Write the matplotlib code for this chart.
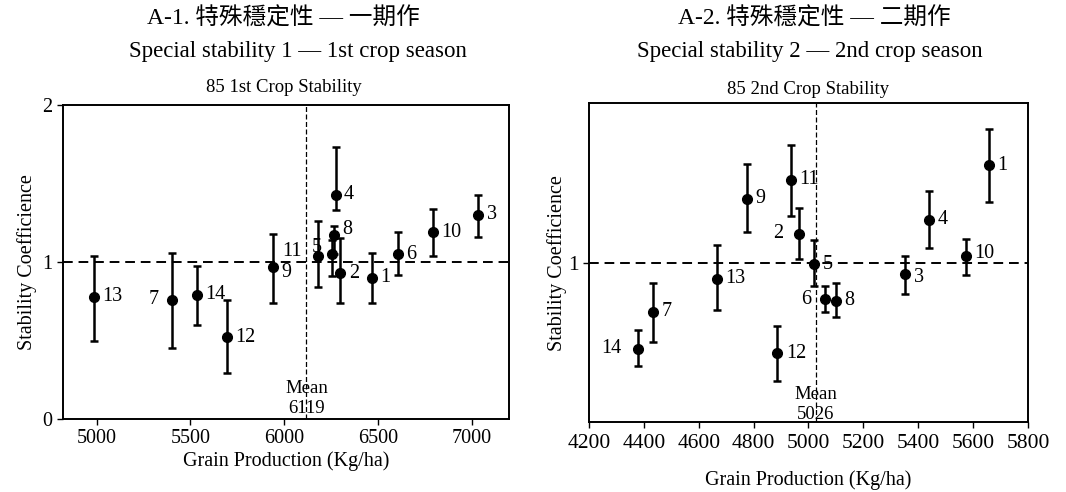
import matplotlib
matplotlib.use('Agg')
import matplotlib.pyplot as plt

plt.rcParams['font.family'] = ['Liberation Serif', 'Noto Sans CJK TC']

# =============================================================================
# Data
# =============================================================================
# 1st crop season
labels_1 = ['13', '7', '14', '12', '9', '11', '5', '8', '4', '2', '1', '6', '10', '3']
yield_1 = [4985, 5404, 5533, 5693, 5939, 6182, 6255, 6265, 6275, 6300, 6467, 6605, 6792, 7036]
coef_1 = [0.78, 0.76, 0.79, 0.52, 0.97, 1.04, 1.05, 1.17, 1.43, 0.93, 0.90, 1.05, 1.19, 1.30]
upper_1 = [1.04, 1.06, 0.975, 0.76, 1.18, 1.26, 1.14, 1.23, 1.73, 1.15, 1.06, 1.19, 1.34, 1.43]
lower_1 = [0.50, 0.45, 0.60, 0.29, 0.74, 0.84, 0.91, 1.05, 1.33, 0.74, 0.74, 0.92, 1.04, 1.16]
mean_1 = 6119

# 2nd crop season
labels_2 = ['14', '7', '13', '9', '12', '11', '2', '5', '6', '8', '3', '4', '10', '1']
yield_2 = [4380, 4435, 4666, 4775, 4887, 4936, 4965, 5021, 5061, 5101, 5353, 5440, 5575, 5659]
coef_2 = [0.46, 0.69, 0.90, 1.40, 0.43, 1.52, 1.18, 0.99, 0.77, 0.76, 0.93, 1.27, 1.04, 1.61]
upper_2 = [0.58, 0.87, 1.11, 1.62, 0.60, 1.74, 1.34, 1.14, 0.85, 0.87, 1.04, 1.45, 1.15, 1.84]
lower_2 = [0.35, 0.50, 0.70, 1.19, 0.26, 1.29, 1.02, 0.85, 0.69, 0.66, 0.80, 1.09, 0.92, 1.38]
mean_2 = 5026

# label offsets (points) for each genotype number
offs_1 = {'7': (-10, 0), '11': (-12, 3), '5': (-7, 5), '8': (6, 4), '9': (6, -4)}
offs_2 = {'14': (-12, 0), '2': (-11, 0), '6': (-10, 0), '10': (6, 2), '3': (6, -3)}


def draw_panel(ax, x, y, lo, hi, labels, offs, mean, mean_txt_y, tick_fs):
    yerr = [[v - l for v, l in zip(y, lo)], [h - v for v, h in zip(y, hi)]]
    ax.errorbar(x, y, yerr=yerr, fmt='o', color='black', ms=7, elinewidth=1.8,
                capsize=3, capthick=1.8)
    ax.axhline(1, color='black', ls=(0, (5, 3)), lw=1.4)
    ax.axvline(mean, color='black', ls=(0, (4, 2)), lw=0.9)
    for xi, yi, lab in zip(x, y, labels):
        dx, dy = offs.get(lab, (6, 0))
        ha = 'right' if dx < 0 else 'left'
        ax.annotate(lab, (xi, yi), xytext=(dx, dy), textcoords='offset points',
                    ha=ha, va='center', fontsize=14.5)
    ax.text(mean, mean_txt_y[0], 'Mean', ha='center', va='center', fontsize=13.5)
    ax.text(mean, mean_txt_y[1], str(mean), ha='center', va='center', fontsize=13.5)
    ax.set_xlabel('Grain Production (Kg/ha)', fontsize=14.5)
    ax.set_ylabel('Stability Coefficience', fontsize=14.5)
    for s in ax.spines.values():
        s.set_linewidth(1.4)
    ax.tick_params(direction='out', length=4, width=1, labelsize=tick_fs)


fig = plt.figure(figsize=(10.66, 4.92), dpi=100)

ax1 = fig.add_axes([0.0591, 0.1484, 0.4184, 0.638])
draw_panel(ax1, yield_1, coef_1, lower_1, upper_1, labels_1, offs_1, mean_1, (0.195, 0.07), 14.5)
ax1.set_xlim(4820, 7200)
ax1.set_ylim(0, 2)
ax1.set_xticks([5000, 5500, 6000, 6500, 7000])
ax1.set_yticks([0, 1, 2])
ax1.xaxis.labelpad = 2
ax1.yaxis.labelpad = 4

ax2 = fig.add_axes([0.5525, 0.1423, 0.4118, 0.648])
draw_panel(ax2, yield_2, coef_2, lower_2, upper_2, labels_2, offs_2, mean_2, (0.17, 0.045), 15.5)
ax2.set_xlim(4200, 5800)
ax2.set_ylim(0, 2)
ax2.set_xticks(range(4200, 5801, 200))
ax2.set_yticks([1])
ax2.tick_params(axis='x', pad=5)
ax2.xaxis.labelpad = 12
ax2.yaxis.labelpad = 1

# headings
fig.text(283 / 1066, 1 - 18 / 492, 'A-1. 特殊穩定性 — 一期作', ha='center', va='center', fontsize=17)
fig.text(814 / 1066, 1 - 18 / 492, 'A-2. 特殊穩定性 — 二期作', ha='center', va='center', fontsize=17)
fig.text(298 / 1066, 1 - 52 / 492, 'Special stability 1 — 1st crop season', ha='center', va='center', fontsize=16.5)
fig.text(810 / 1066, 1 - 52 / 492, 'Special stability 2 — 2nd crop season', ha='center', va='center', fontsize=16.5)
fig.text(284 / 1066, 1 - 88 / 492, '85 1st Crop Stability', ha='center', va='center', fontsize=13.5)
fig.text(808 / 1066, 1 - 89 / 492, '85 2nd Crop Stability', ha='center', va='center', fontsize=13.5)

fig.savefig('out.png', dpi=100)
